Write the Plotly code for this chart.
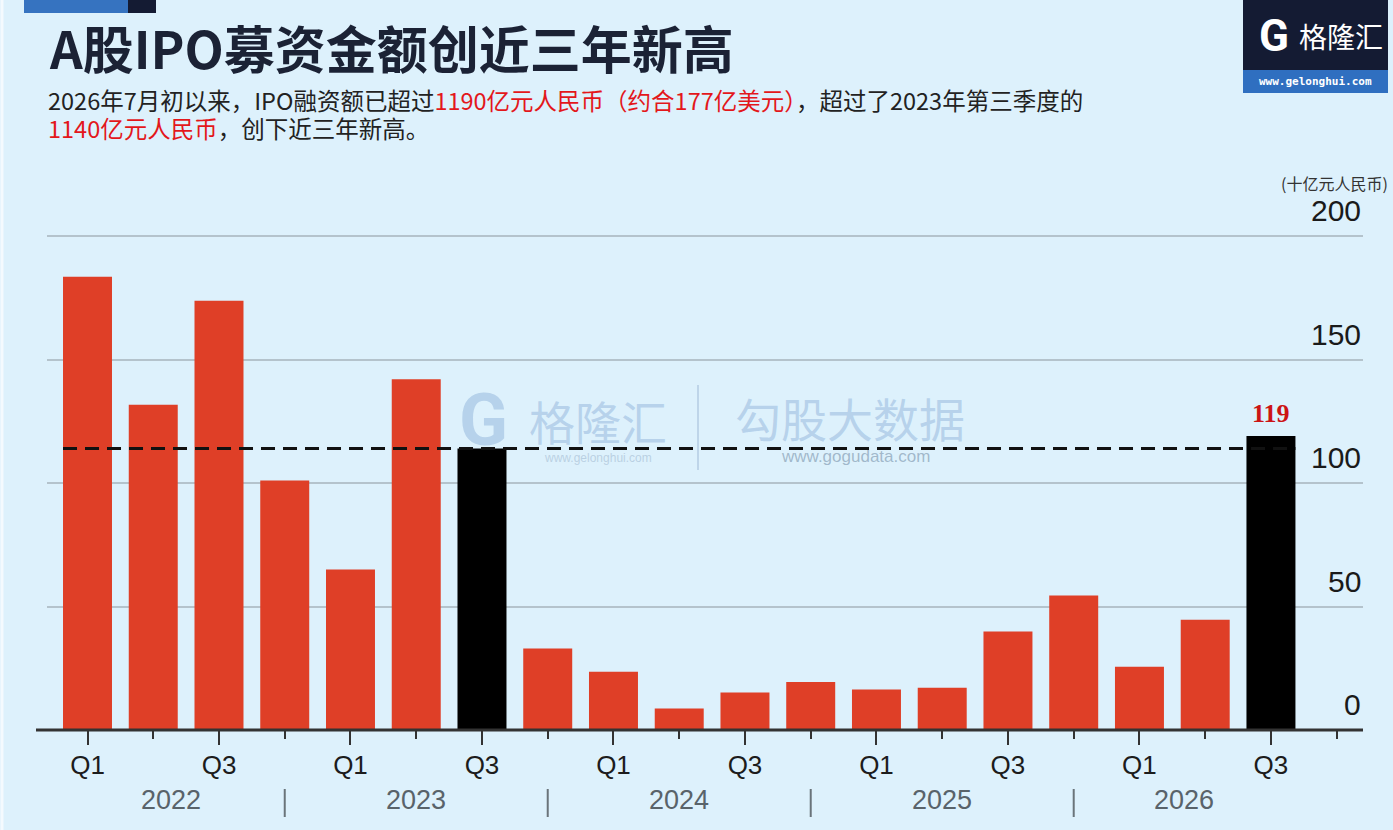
import plotly.graph_objects as go

# ---------------- data ----------------
quarters = ["Q1", "Q2", "Q3", "Q4"] * 4 + ["Q1", "Q2", "Q3"]
years = ["2022"] * 4 + ["2023"] * 4 + ["2024"] * 4 + ["2025"] * 4 + ["2026"] * 3
ipo_values = [183.5, 131.7, 173.8, 101.0, 65.0, 142.0, 114.0, 33.0,
              23.6, 8.7, 15.2, 19.4, 16.4, 17.1, 39.9, 54.5,
              25.6, 44.6, 119.0]
highlight = ["2023Q3", "2026Q3"]
y_ticks = [0, 50, 100, 150, 200]
year_labels = ["2022", "2023", "2024", "2025", "2026"]
value_label = "119"

# ---------------- layout constants ----------------
W, H = 1393, 830
L, R, T, B = 47, 30, 224, 100
PW, PH = W - L - R, H - T - B
RED = "#DF3F27"
BG = "#DDF1FC"
BAR_W = 0.745
X0, X1 = -0.616, 19.40
Y_PER_UNIT = 2.47
Y_MAX = PH / Y_PER_UNIT


def px(x):
    return (x - L) / PW


def py(y):
    return (H - B - y) / PH


n = len(ipo_values)
xs = list(range(n))
keys = [y + q for y, q in zip(years, quarters)]
colors = ["#000000" if k in highlight else RED for k in keys]
ref_value = ipo_values[keys.index(highlight[0])]

fig = go.Figure()
fig.add_trace(go.Bar(x=xs, y=ipo_values, marker=dict(color=colors, line=dict(width=0)),
                     width=BAR_W, hoverinfo="skip"))
fig.add_trace(go.Scatter(x=[xs[0] - BAR_W / 2, xs[-1] + BAR_W / 2], y=[ref_value, ref_value],
                         mode="lines", line=dict(color="#111111", width=3, dash="14px,8px"),
                         hoverinfo="skip"))

tick_idx = [i for i, q in enumerate(quarters) if q in ("Q1", "Q3")]
fig.update_xaxes(range=[X0, X1], tickmode="array", tickvals=tick_idx,
                 ticktext=[quarters[i] for i in tick_idx],
                 ticks="outside", ticklen=14, tickwidth=2, tickcolor="#333333",
                 minor=dict(tickmode="linear", tick0=0, dtick=1, ticks="outside",
                            ticklen=8, tickwidth=2, tickcolor="#333333"),
                 tickfont=dict(family="Liberation Sans, Arial", size=26, color="#1c1c1c"),
                 showgrid=False, zeroline=False, showline=False, fixedrange=True,
                 ticklabelstandoff=-2)
fig.update_yaxes(range=[0, Y_MAX], tickmode="array", tickvals=y_ticks[1:],
                 showticklabels=False, showgrid=True, gridcolor="#B4C3CC", gridwidth=2,
                 zeroline=False, showline=False, ticks="", fixedrange=True)

shapes = []
ann = []

# baseline
shapes.append(dict(type="line", xref="paper", yref="paper", x0=px(36), x1=px(1363),
                   y0=0, y1=0, line=dict(color="#333333", width=3), layer="above"))
# left light edge
shapes.append(dict(type="line", xref="paper", yref="paper", x0=px(2), x1=px(2),
                   y0=py(0), y1=py(H), line=dict(color="#F4FAFE", width=3)))
# top-left decorative bar
shapes.append(dict(type="rect", xref="paper", yref="paper", x0=px(24), x1=px(128),
                   y0=py(13), y1=py(0), fillcolor="#3673C0", line=dict(width=0)))
shapes.append(dict(type="rect", xref="paper", yref="paper", x0=px(128), x1=px(156),
                   y0=py(13), y1=py(0), fillcolor="#141B33", line=dict(width=0)))
# logo box
shapes.append(dict(type="rect", xref="paper", yref="paper", x0=px(1243), x1=px(1388),
                   y0=py(70), y1=py(0), fillcolor="#141B33", line=dict(width=0)))
shapes.append(dict(type="rect", xref="paper", yref="paper", x0=px(1243), x1=px(1388),
                   y0=py(93), y1=py(70), fillcolor="#2F6FC0", line=dict(width=0)))

# year separators
sep_idx = [i for i, q in enumerate(quarters) if q == "Q4"]
for i in sep_idx:
    xp = (i - X0) / (X1 - X0)
    shapes.append(dict(type="line", xref="paper", yref="paper", x0=xp, x1=xp,
                       y0=py(789), y1=py(817), line=dict(color="#6A747A", width=2)))

# year labels
year_pos = [1.27, 5, 9, 13, 16.68]
for yl, xpos in zip(year_labels, year_pos):
    ann.append(dict(x=xpos, xref="x", y=py(800), yref="paper", text=yl, showarrow=False,
                    xanchor="center", yanchor="middle",
                    font=dict(family="Liberation Sans, Arial", size=27, color="#59636A")))

# y tick labels on right
for v in y_ticks:
    ann.append(dict(x=px(1363), xref="paper", y=v, yref="y", text=str(v), showarrow=False,
                    xanchor="right", yanchor="bottom", yshift=7,
                    font=dict(family="Liberation Sans, Arial", size=30, color="#1a1a1a")))
ann.append(dict(x=px(1390), xref="paper", y=py(183), yref="paper", text="(十亿元人民币)",
                showarrow=False, xanchor="right", yanchor="middle",
                font=dict(family="Noto Sans CJK SC", size=16, color="#333333")))

# value label
ann.append(dict(x=xs[-1], xref="x", y=ipo_values[-1], yref="y", text="<b>%s</b>" % value_label,
                showarrow=False, xanchor="center", yanchor="bottom", yshift=6,
                font=dict(family="Liberation Serif, DejaVu Serif", size=26, color="#CC1414")))

# title and subtitle
ann.append(dict(x=px(47), xref="paper", y=py(47), yref="paper",
                text="<b>A股IPO募资金额创近三年新高</b>", showarrow=False,
                xanchor="left", yanchor="middle",
                font=dict(family="Noto Sans CJK SC", size=51, color="#1B2235")))
red = "#E3171B"
line1 = ("2026年7月初以来，IPO融资额已超过<span style='color:%s'>1190亿元人民币（约合177亿美元）</span>，"
         "超过了2023年第三季度的") % red
line2 = "<span style='color:%s'>1140亿元人民币</span>，创下近三年新高。" % red
ann.append(dict(x=px(46), xref="paper", y=py(100), yref="paper", text=line1, showarrow=False,
                xanchor="left", yanchor="middle",
                font=dict(family="Noto Sans CJK SC", size=23.5, color="#222222")))
ann.append(dict(x=px(46), xref="paper", y=py(128), yref="paper", text=line2, showarrow=False,
                xanchor="left", yanchor="middle",
                font=dict(family="Noto Sans CJK SC", size=23.5, color="#222222")))

# logo text
ann.append(dict(x=px(1274), xref="paper", y=py(36), yref="paper", text="<b>G</b>", showarrow=False,
                xanchor="center", yanchor="middle",
                font=dict(family="Roboto, Liberation Sans", size=44, color="#FFFFFF")))
ann.append(dict(x=px(1341), xref="paper", y=py(36), yref="paper", text="格隆汇", showarrow=False,
                xanchor="center", yanchor="middle",
                font=dict(family="Noto Sans CJK SC", size=28, color="#FFFFFF")))
ann.append(dict(x=px(1315), xref="paper", y=py(81), yref="paper", text="<b>www.gelonghui.com</b>",
                showarrow=False, xanchor="center", yanchor="middle",
                font=dict(family="DejaVu Sans Mono, Liberation Mono", size=11, color="#FFFFFF")))

# watermark
wm = "rgba(150,184,220,0.55)"
ann.append(dict(x=px(483), xref="paper", y=py(420), yref="paper", text="<b>G</b>", showarrow=False,
                xanchor="center", yanchor="middle",
                font=dict(family="Roboto, Liberation Sans", size=72, color=wm)))
ann.append(dict(x=px(598), xref="paper", y=py(420), yref="paper", text="格隆汇", showarrow=False,
                xanchor="center", yanchor="middle",
                font=dict(family="Noto Sans CJK SC", size=46, color=wm)))
ann.append(dict(x=px(598), xref="paper", y=py(458), yref="paper", text="www.gelonghui.com",
                showarrow=False, xanchor="center", yanchor="middle",
                font=dict(family="Liberation Sans", size=12, color="rgba(150,175,200,0.5)")))
shapes.append(dict(type="line", xref="paper", yref="paper", x0=px(698), x1=px(698),
                   y0=py(470), y1=py(385), line=dict(color="rgba(170,195,220,0.6)", width=2)))
ann.append(dict(x=px(850), xref="paper", y=py(417), yref="paper", text="勾股大数据", showarrow=False,
                xanchor="center", yanchor="middle",
                font=dict(family="Noto Sans CJK SC", size=46, color=wm)))
ann.append(dict(x=px(855), xref="paper", y=py(456), yref="paper", text="www.gogudata.com",
                showarrow=False, xanchor="center", yanchor="middle",
                font=dict(family="Liberation Sans", size=17, color="rgba(120,145,170,0.6)")))

fig.update_layout(width=W, height=H, margin=dict(l=L, r=R, t=T, b=B, pad=0),
                  paper_bgcolor=BG, plot_bgcolor=BG, showlegend=False, hovermode=False,
                  bargap=1 - BAR_W, shapes=shapes, annotations=ann)

fig.write_html("out.html", config={"displayModeBar": False, "staticPlot": True},
               post_script="document.body.style.margin='0';document.body.style.overflow='hidden';"
                           "document.body.style.background='%s';" % BG)
